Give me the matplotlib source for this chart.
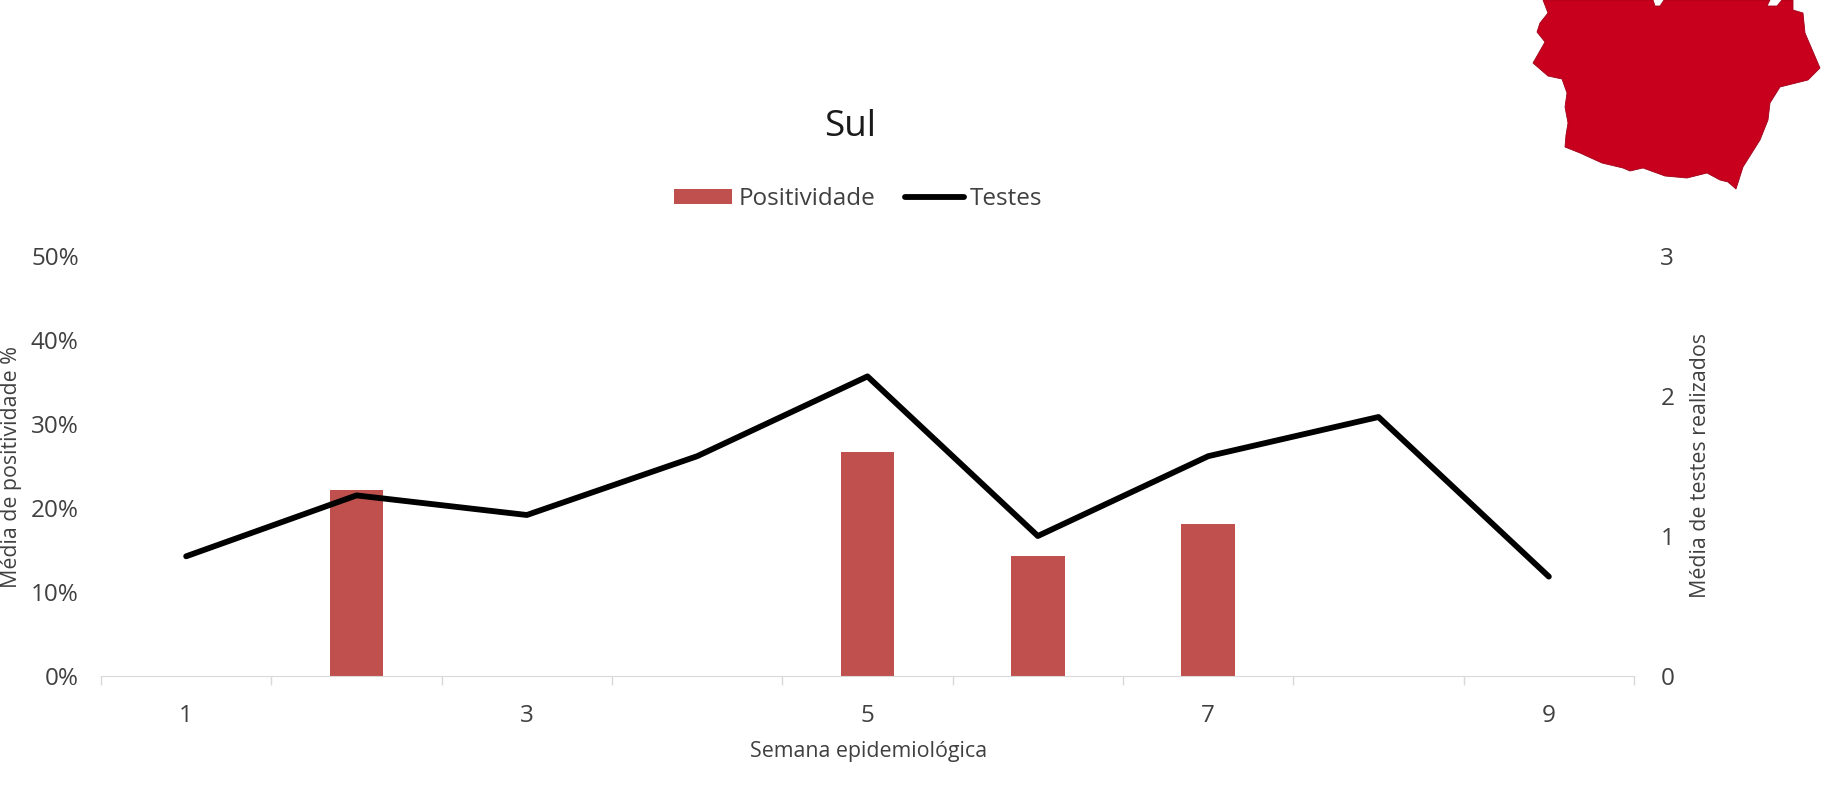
import numpy as np
import matplotlib
matplotlib.use("Agg")
import matplotlib.pyplot as plt
from matplotlib.patches import Polygon

plt.rcParams["font.family"] = ["Open Sans", "DejaVu Sans"]

semanas = [1, 2, 3, 4, 5, 6, 7, 8, 9]
rotulos_x = ["1", "", "3", "", "5", "", "7", "", "9"]
positividade = [0, 22.2, 0, 0, 26.7, 14.3, 18.1, 0, 0]
testes = [0.855, 1.29, 1.15, 1.57, 2.14, 1.0, 1.57, 1.85, 0.71]
ticks_esq = [0, 10, 20, 30, 40, 50]
ticks_dir = [0, 1, 2, 3]

# outline of the region map, in pixels of the picture
mapa_x = [1543, 1548, 1540, 1537, 1545, 1533, 1548, 1562, 1567, 1565, 1568, 1566, 1565, 1580,
          1602, 1623, 1630, 1643, 1665, 1687, 1707, 1720, 1728, 1736, 1743, 1760, 1768, 1770,
          1780, 1808, 1820, 1805, 1803, 1793, 1793, 1782, 1777, 1767, 1770, 1664, 1660, 1655, 1653]
mapa_y = [0, 13, 23, 32, 42, 63, 76, 79, 93, 107, 123, 135, 147, 153, 163, 168, 171, 168,
          176, 178, 173, 180, 182, 189, 167, 140, 120, 103, 87, 80, 68, 33, 13, 10, 0, 0, 6, 6,
          0, 0, 6, 6, 0]

W, H = 1824, 800
fig = plt.figure(figsize=(W / 100, H / 100), dpi=100)
ax = fig.add_axes([101 / W, 1 - 676 / H, (1634 - 101) / W, (676 - 256) / H])

ax.bar(semanas, positividade, width=0.315, color="#c0504d", label="Positividade")
ax.set_xlim(0.5, 9.5)
ax.set_ylim(0, 50)
ax.set_yticks(ticks_esq)
ax.set_yticklabels([f"{t}%" for t in ticks_esq], fontsize=17.5, color="#404040")
ax.tick_params(axis="y", length=0, pad=16)
ax.set_xticks(semanas)
ax.set_xticklabels(rotulos_x, fontsize=17.5, color="#404040")
ax.tick_params(axis="x", length=0, pad=20)
ax.set_xticks(np.arange(0.5, 10), minor=True)
ax.tick_params(axis="x", which="minor", length=6.5, width=1, color="#d9d9d9")
for lado in ["top", "left", "right"]:
    ax.spines[lado].set_visible(False)
ax.spines["bottom"].set_color("#d9d9d9")

ax2 = ax.twinx()
ax2.plot(semanas, testes, color="black", lw=4.2, solid_capstyle="round", label="Testes")
ax2.set_ylim(0, 3)
ax2.set_yticks(ticks_dir)
ax2.set_yticklabels([str(t) for t in ticks_dir], fontsize=17.5, color="#404040")
ax2.tick_params(axis="y", length=0, pad=19)
for lado in ["top", "left", "right", "bottom"]:
    ax2.spines[lado].set_visible(False)

fig.text(850 / W, 1 - 127 / H, "Sul", fontsize=26.5, color="#1a1a1a", ha="center", va="center")
fig.text(869 / W, 1 - 752 / H, "Semana epidemiológica", fontsize=15.4, color="#404040",
         ha="center", va="center")
fig.text(1 / W, 1 - 467 / H, "Média de positividade %", fontsize=15.4, color="#404040",
         rotation=90, ha="left", va="center")
fig.text(1701 / W, 1 - 466 / H, "Média de testes realizados", fontsize=15.4, color="#404040",
         rotation=90, ha="center", va="center")

alcas = ax.get_legend_handles_labels()[0] + ax2.get_legend_handles_labels()[0]
nomes = ["Positividade", "Testes"]
fig.legend(alcas, nomes, loc="center", bbox_to_anchor=(858 / W, 1 - 199 / H), ncol=2, frameon=False,
           fontsize=17.5, labelcolor="#404040", handlelength=2.4, handletextpad=0.25,
           columnspacing=1.25, handleheight=0.62)

# map drawn in figure pixels
mapa = Polygon(np.column_stack([np.array(mapa_x) / W, 1 - np.array(mapa_y) / H]), closed=True,
               facecolor="#c8001e", edgecolor="#a00018", lw=0.6, transform=fig.transFigure)
fig.add_artist(mapa)

fig.savefig("out.png", dpi=100)
